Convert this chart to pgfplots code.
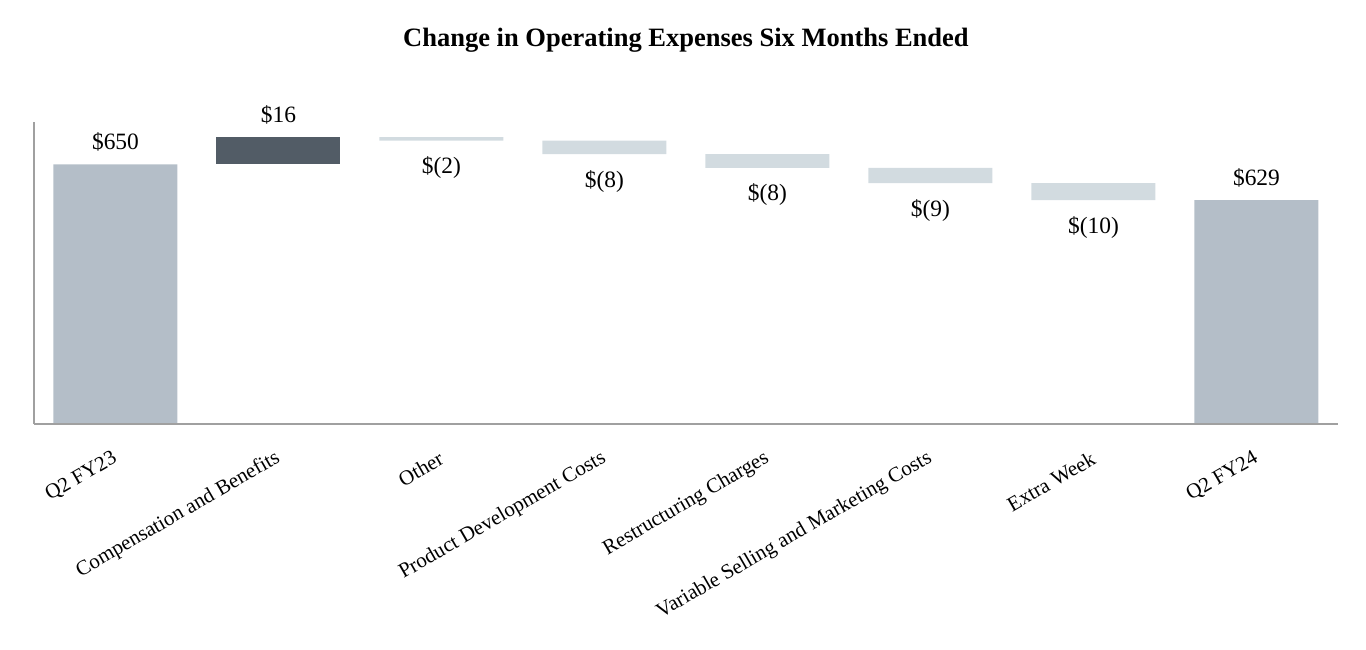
\documentclass[border=0pt]{standalone}
\usepackage{pgfplots}
\pgfplotsset{compat=1.18}
\usepackage{fontspec}
\setmainfont{Liberation Serif}
\definecolor{totcol}{HTML}{B4BEC8}
\definecolor{inccol}{HTML}{525C66}
\definecolor{deccol}{HTML}{D2DBE0}
\definecolor{axcol}{HTML}{A0A0A0}
\newcommand{\lab}{\fontsize{23.5}{28}\selectfont}
\newcommand{\tlab}{\fontsize{21}{25}\selectfont}
\pgfplotsset{
  wfbase/.style={
    scale only axis, width=1304bp, height=302bp,
    xmin=-0.5, xmax=7.5, ymin=497.7, ymax=674.9,
  }
}
\begin{document}
\begin{tikzpicture}
\begin{axis}[
  wfbase,
  ybar stacked, bar width=124bp,
  axis x line=bottom, axis y line=left,
  axis line style={-, draw=axcol, line width=1.6bp},
  axis on top,
  ytick=\empty,
  xtick={0,1,2,3,4,5,6,7},
  xticklabels={Q2 FY23, Compensation and Benefits, Other, Product Development Costs, Restructuring Charges, Variable Selling and Marketing Costs, Extra Week, Q2 FY24},
  major tick length=0pt,
  xticklabel style={yshift=-33bp, rotate=30, anchor=east, inner sep=0pt, font=\tlab},
  title={\fontsize{26.6}{30}\selectfont\bfseries Change in Operating Expenses Six Months Ended},
  title style={at={(rel axis cs:0.5,1)}, anchor=base, yshift=70bp, inner sep=0pt},
]
% invisible base
\addplot[draw=none, fill=none] coordinates {(0,0) (1,650) (2,664) (3,656) (4,648) (5,639) (6,629) (7,0)};
% totals
\addplot[draw=none, fill=totcol] coordinates {(0,650) (1,0) (2,0) (3,0) (4,0) (5,0) (6,0) (7,629)};
% increase
\addplot[draw=none, fill=inccol] coordinates {(0,0) (1,16) (2,0) (3,0) (4,0) (5,0) (6,0) (7,0)};
% decreases
\addplot[draw=none, fill=deccol] coordinates {(0,0) (1,0) (2,2) (3,8) (4,8) (5,9) (6,10) (7,0)};
\end{axis}
\begin{axis}[wfbase, hide axis, clip=false]
\addplot[draw=none, mark=none, nodes near coords, point meta=explicit symbolic,
  every node near coord/.append style={anchor=base, yshift=15bp, font=\lab, inner sep=0pt}]
  table[meta=t] {
x y t
0 650 \$650
1 666 \$16
7 629 \$629
};
\addplot[draw=none, mark=none, nodes near coords, point meta=explicit symbolic,
  every node near coord/.append style={anchor=base, yshift=-33bp, font=\lab, inner sep=0pt}]
  table[meta=t] {
x y t
2 664 \$(2)
3 656 \$(8)
4 648 \$(8)
5 639 \$(9)
6 629 \$(10)
};
\end{axis}
\pgfresetboundingbox
\path (-34bp,-226bp) rectangle (1332bp,424bp);
\end{tikzpicture}
\end{document}
